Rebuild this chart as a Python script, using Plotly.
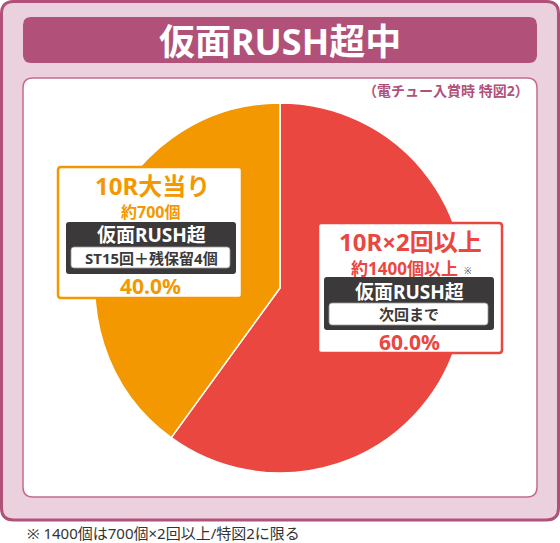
import plotly.graph_objects as go

W, H = 560, 543

# ---- data ----
categories = ["10R×2回以上", "10R大当り"]
values = [60.0, 40.0]
slice_colors = ["#e9473f", "#f39800"]
title_text = "仮面RUSH超中"
subtitle_text = "（電チュー入賞時 特図2）"
footnote_text = "※ 1400個は700個×2回以上/特図2に限る"
orange_lines = ["10R大当り", "約700個", "仮面RUSH超", "ST15回＋残保留4個"]
red_lines = ["10R×2回以上", "約1400個以上", "仮面RUSH超", "次回まで"]

FONT = "Noto Sans, Noto Sans CJK JP"
RED, ORANGE = slice_colors


def X(px):
    return px / W


def Y(py):
    return 1 - py / H


def rrect(x0, y0, x1, y1, r):
    pts = [
        ("M", [(x0 + r, y0)]),
        ("L", [(x1 - r, y0)]),
        ("Q", [(x1, y0), (x1, y0 + r)]),
        ("L", [(x1, y1 - r)]),
        ("Q", [(x1, y1), (x1 - r, y1)]),
        ("L", [(x0 + r, y1)]),
        ("Q", [(x0, y1), (x0, y1 - r)]),
        ("L", [(x0, y0 + r)]),
        ("Q", [(x0, y0), (x0 + r, y0)]),
    ]
    s = ""
    for cmd, ps in pts:
        s += cmd + " " + " ".join(f"{X(a):.5f},{Y(b):.5f}" for a, b in ps) + " "
    return s + "Z"


def box(x0, y0, x1, y1, r, fill, line=None, lw=0, layer="above"):
    return dict(
        type="path", xref="paper", yref="paper", path=rrect(x0, y0, x1, y1, r),
        fillcolor=fill, line=dict(color=line or fill, width=lw), layer=layer,
    )


def txt(s, x, y, size, color, xanchor="center", bold=True):
    return dict(
        text=f"<b>{s}</b>" if bold else s, x=X(x), y=Y(y), xref="paper", yref="paper",
        xanchor=xanchor, yanchor="middle", showarrow=False,
        font=dict(family=FONT, size=size, color=color),
    )


cx, cy, R = 280, 288, 185

fig = go.Figure(
    go.Pie(
        labels=categories, values=values, sort=False, direction="clockwise",
        rotation=0, textinfo="none", hoverinfo="none", showlegend=False,
        marker=dict(colors=slice_colors, line=dict(color="white", width=1.5)),
        domain=dict(x=[X(cx - R), X(cx + R)], y=[Y(cy + R), Y(cy - R)]),
    )
)

PINK = "#b15179"
DARK = "#3b3939"
shapes = [
    box(1.5, 1.5, 558.5, 520, 12, "#ebd1de", PINK, 3, "below"),
    box(23, 17, 537, 63, 8, PINK, None, 0, "below"),
    box(23, 78, 537, 497, 10, "white", "#c66b93", 1.5, "below"),
    # orange label
    box(58, 167, 242, 298, 3, "white", ORANGE, 2.5),
    box(66, 222, 236, 274, 3, DARK),
    box(71, 247, 230, 268, 3, "white", "#999999", 0.8),
    # red label
    box(318, 223, 502, 353, 3, "white", RED, 2.5),
    box(324, 277, 494, 330, 3, DARK),
    box(329, 303, 488, 325, 3, "white", "#999999", 0.8),
]

annotations = [
    txt(title_text, 280, 41, 36, "white"),
    txt(subtitle_text, 531, 90, 14, PINK, xanchor="right"),
    # orange label
    txt(orange_lines[0], 152, 185.5, 24, ORANGE),
    txt(orange_lines[1], 150, 212, 16, ORANGE),
    txt(orange_lines[2], 151, 235, 19, "white"),
    txt(orange_lines[3], 151, 258, 15, DARK),
    txt(f"{values[1]:.1f}%", 150, 286, 21, ORANGE),
    # red label
    txt(red_lines[0], 410, 242, 24, RED),
    txt(red_lines[1], 404, 268.5, 17, RED),
    txt("※", 468, 271, 9, DARK, bold=False),
    txt(red_lines[2], 409, 292, 19, "white"),
    txt(red_lines[3], 409, 314, 15, DARK),
    txt(f"{values[0]:.1f}%", 409, 342, 21, RED),
    # footnote
    txt(footnote_text, 25, 532.5, 15, "#333333", xanchor="left", bold=False),
]

fig.update_layout(
    width=W, height=H, margin=dict(l=0, r=0, t=0, b=0),
    paper_bgcolor="white", plot_bgcolor="white",
    shapes=shapes, annotations=annotations,
)

fig.write_html(
    "out.html",
    config={"displayModeBar": False},
    post_script="document.body.style.margin='0px';",
)
